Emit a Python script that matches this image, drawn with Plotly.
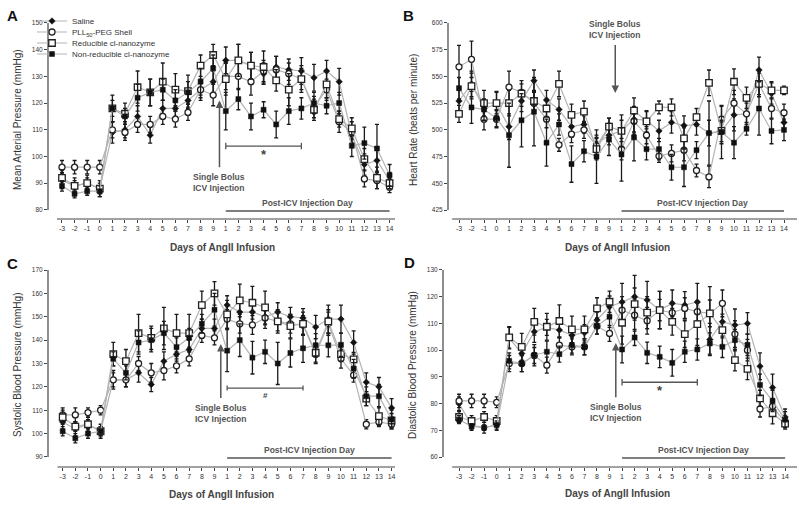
import plotly.graph_objects as go

# ---------------- data ----------------
day_labels = ["-3", "-2", "-1", "0", "1", "2", "3", "4", "5", "6", "7", "8", "9",
              "1", "2", "3", "4", "5", "6", "7", "8", "9", "10", "11", "12", "13", "14"]
series_names = ["Saline", "PLL<sub>50</sub>-PEG Shell", "Reducible cl-nanozyme", "Non-reducible cl-nanozyme"]

# A: Mean arterial pressure (mmHg)
map_saline = [91, 89, 90, 88, 109, 110, 115, 108, 118, 118, 121, 125, 128,
              136, 136, 134, 131, 133.5, 132.5, 132, 129.5, 132, 128, 108, 97, 98.5, 91]
map_pll = [96, 96, 96, 96, 110, 109, 112, 112, 115, 114, 116.5, 125, 123,
           130, 130, 128, 132, 132.5, 131, 129, 118.5, 125, 113, 109, 91.6, 91, 88.5]
map_red = [92, 89, 90, 88, 118, 116, 126, 124, 128, 125, 124.5, 134, 138,
           129, 136, 134, 133.5, 128.5, 125, 129, 117.5, 127, 114, 110.5, 99, 92, 90]
map_nonred = [89, 86, 87, 87, 118, 115, 122, 124, 125, 121, 124, 128, 133,
              117, 121.5, 115, 117.5, 112, 117, 118, 120, 119, 120, 104, 105, 103, 93]
map_saline_err = [3, 2, 2, 2, 4, 3, 4, 3, 3, 3, 3, 3, 4, 5, 6, 5, 4, 4, 4, 5, 5, 4, 5, 3, 4, 4, 3]
map_pll_err = [2.5, 2.5, 2.5, 2.5, 3, 3, 3, 3, 3, 3, 3, 4, 4, 5, 5, 5, 4, 5, 4, 4, 4, 4, 4, 4, 3, 3, 2]
map_red_err = [3, 3, 3, 3, 5, 4, 6, 5, 7, 6, 6, 4, 4, 6, 6, 5, 6, 4, 6, 5, 4, 5, 3, 4, 4, 4, 2]
map_nonred_err = [2, 1.5, 1.5, 2, 3, 3, 5, 5, 4, 4, 4, 5, 5, 7, 4, 5, 3, 5, 5, 4, 4, 3, 4, 4, 6, 9, 4]

# B: Heart rate (beats per minute)
hr_saline = [527, 543, 520, 524, 503, 527, 546, 528, 519, 503, 505, 487, 495,
             499, 510, 509, 499, 507, 504, 505, 497, 499, 514, 515, 556, 534, 507]
hr_pll = [559, 566, 510, 510, 540, 535, 525, 510, 486, 496, 500, 485, 503,
          482, 508, 495, 475.5, 478, 481, 462, 456, 510, 525, 515, 543, 520, 516]
hr_red = [515, 541, 525, 525, 525, 534, 527, 520, 543, 514, 517, 482, 503,
          499, 518, 508, 521, 521, 492, 512, 544, 499, 545, 530, 543, 537, 537]
hr_nonred = [539, 521, 519, 511, 495, 509, 517, 488, 505, 468, 480, 475, 491,
             477, 493, 482, 482, 465, 465, 481, 497, 498, 488, 501, 520, 499, 500]
hr_saline_err = [10, 12, 8, 12, 12, 10, 10, 9, 10, 10, 8, 8, 9, 10, 12, 8, 10, 10, 9, 10, 12, 12, 15, 12, 12, 10, 8]
hr_pll_err = [20, 17, 10, 8, 15, 8, 10, 8, 6, 8, 8, 8, 8, 10, 12, 8, 6, 8, 10, 6, 10, 12, 12, 10, 10, 10, 8]
hr_red_err = [8, 12, 12, 10, 12, 12, 10, 8, 12, 10, 10, 10, 8, 15, 12, 10, 6, 8, 10, 8, 12, 10, 12, 10, 12, 8, 4]
hr_nonred_err = [10, 15, 10, 8, 30, 25, 32, 22, 10, 17, 10, 25, 15, 25, 22, 10, 10, 12, 18, 8, 30, 25, 15, 6, 25, 12, 10]

# C: Systolic blood pressure (mmHg)
sbp_saline = [105, 102, 104, 101, 123, 123, 126, 121, 131, 134, 136, 145, 145,
              155, 152, 152, 150, 152, 150, 149.5, 145.6, 149, 149, 139, 122, 120, 111]
sbp_pll = [108, 108, 109, 110, 123, 123, 130, 126, 127, 129, 132, 142, 141,
           149, 147, 146.5, 149.5, 148, 147, 146.5, 134, 147, 132, 125, 104, 105, 104]
sbp_red = [107, 103, 104, 101, 134, 131, 143, 141, 145, 143, 143, 155, 160,
           151, 157, 156, 154, 148, 146, 147, 134.6, 148, 134, 131.8, 115, 107.5, 105.6]
sbp_nonred = [101, 98, 100, 101, 132, 126, 139, 140, 143, 137, 141, 147, 153,
              135.5, 140, 132.5, 135, 130, 134.5, 136.5, 137.8, 137.8, 138, 127.8, 116, 116, 106]
sbp_saline_err = [3, 3, 3, 3, 4, 3, 4, 3, 4, 3, 4, 4, 4, 4, 5, 5, 5, 4, 4, 4, 5, 6, 6, 5, 4, 4, 4]
sbp_pll_err = [3, 3, 2, 2, 3, 3, 3, 4, 4, 3, 3, 3, 3, 4, 4, 4, 3, 4, 4, 4, 4, 5, 4, 3, 2, 2, 2]
sbp_red_err = [3, 2, 2, 2, 5, 5, 8, 5, 9, 8, 8, 6, 5, 6, 7, 7, 7, 5, 5, 5, 4, 5, 3, 3, 3, 4, 3]
sbp_nonred_err = [2, 2, 2, 2, 3, 3, 5, 5, 5, 4, 4, 4, 7, 9, 7, 7, 5, 9, 6, 6, 5, 5, 5, 4, 4, 5, 4]

# D: Diastolic blood pressure (mmHg)
dbp_saline = [80, 72, 71, 72, 104.5, 98.75, 106.9, 108.5, 107.5, 105.6, 106.5, 111.25, 116.25,
              118, 120, 118.75, 115, 117.5, 116.9, 118, 104, 110.6, 109.4, 110, 94, 86, 75]
dbp_pll = [81, 81, 81, 80.5, 95, 95, 98, 94.4, 101.9, 101.25, 101.25, 109, 106.25,
           115, 113.1, 111, 115, 114, 115.6, 114.4, 113.75, 117.5, 106, 100, 78, 79, 73]
dbp_red = [75, 73.5, 75, 73.5, 104.75, 101.25, 110.6, 108.75, 110.9, 107.75, 107.75, 115.6, 118.1,
           110.25, 117.25, 114, 115, 110.6, 106, 109.75, 113.75, 107.5, 96.25, 93, 82, 76.4, 72.5]
dbp_nonred = [74, 71.5, 71, 72, 96, 95, 98.1, 99.4, 98.5, 101.9, 101.25, 109, 112.5,
              100.25, 104.75, 99, 97.5, 95.25, 99.4, 100.25, 102.5, 101.25, 103.75, 102, 87, 81, 74]
dbp_saline_err = [2.5, 2, 2, 2, 4, 3, 4, 3, 3, 3, 3, 3, 4, 7, 8, 7, 7, 5, 5, 7, 6, 6, 6, 4, 5, 5, 3]
dbp_pll_err = [2.5, 2.5, 2.5, 2, 3, 3, 3, 3, 3, 3, 3, 3, 3, 5, 6, 5, 4, 4, 4, 4, 5, 5, 5, 4, 3, 3, 2]
dbp_red_err = [2, 2, 2, 2, 4, 5, 5, 5, 6, 5, 5, 4, 4, 8, 6, 6, 7, 5, 5, 8, 10, 6, 4, 4, 3, 4, 2]
dbp_nonred_err = [1.5, 1, 1, 1.5, 3, 3, 4, 4, 3, 3, 3, 3, 4, 5, 3, 4, 4, 5, 4, 4, 4, 4, 4, 4, 4, 4, 3]

# ---------------- styling ----------------
FONT = "Liberation Sans, Arial, sans-serif"
W, H = 800, 507
x_pos = list(range(len(day_labels)))


def px_x(p):
    return p / W


def px_y(p):
    return 1 - p / H


panels = [
    dict(letter="A", ax="", xdom=[48, 395], ydom=[20, 219], xr=[-1.11, 26.43], yr=[76.6, 151.1],
         yticks=[80, 90, 100, 110, 120, 130, 140, 150], ylo=80, yhi=150, xline=[-0.4, 26.43],
         data=[map_saline, map_pll, map_red, map_nonred],
         err=[map_saline_err, map_pll_err, map_red_err, map_nonred_err],
         ytitle="Mean Arterial Pressure (mmHg)", ytx=17, yty=120, xtx=222, xty=247,
         letpos=(12, 15)),
    dict(letter="B", ax="2", xdom=[448, 797], ydom=[20, 219], xr=[-0.88, 27.04], yr=[416.6, 602.8],
         yticks=[425, 450, 475, 500, 525, 550, 575, 600], ylo=425, yhi=600, xline=[-0.55, 27.04],
         data=[hr_saline, hr_pll, hr_red, hr_nonred],
         err=[hr_saline_err, hr_pll_err, hr_red_err, hr_nonred_err],
         ytitle="Heart Rate (beats per minute)", ytx=413, yty=120, xtx=617, xty=247,
         letpos=(408, 15)),
    dict(letter="C", ax="3", xdom=[48, 395], ydom=[267, 467], xr=[-1.16, 26.27], yr=[85.7, 171.3],
         yticks=[90, 100, 110, 120, 130, 140, 150, 160, 170], ylo=90, yhi=170, xline=[-0.4, 26.27],
         data=[sbp_saline, sbp_pll, sbp_red, sbp_nonred],
         err=[sbp_saline_err, sbp_pll_err, sbp_red_err, sbp_nonred_err],
         ytitle="Systolic Blood Pressure (mmHg)", ytx=17, yty=365, xtx=221, xty=494,
         letpos=(12, 263)),
    dict(letter="D", ax="4", xdom=[443, 797], ydom=[267, 467], xr=[-1.28, 26.95], yr=[56.3, 131.1],
         yticks=[60, 70, 80, 90, 100, 110, 120, 130], ylo=60, yhi=130, xline=[-0.55, 26.95],
         data=[dbp_saline, dbp_pll, dbp_red, dbp_nonred],
         err=[dbp_saline_err, dbp_pll_err, dbp_red_err, dbp_nonred_err],
         ytitle="Diastolic Blood Pressure (mmHg)", ytx=412, yty=365, xtx=617, xty=493,
         letpos=(409, 262)),
]

marker_styles = [
    dict(symbol="diamond", size=5, color="#111", line=dict(color="#111", width=0.5)),
    dict(symbol="circle", size=6, color="white", line=dict(color="#222", width=1.3)),
    dict(symbol="square", size=6.5, color="white", line=dict(color="#222", width=1.3)),
    dict(symbol="square", size=5, color="#111", line=dict(color="#111", width=0.5)),
]
legend_ids = ["legend", "legend2", "legend3", "legend4"]
legend_py = [20, 31, 42, 53]

fig = go.Figure()
for pi, p in enumerate(panels):
    for si in range(4):
        fig.add_trace(go.Scatter(
            x=x_pos, y=p["data"][si], name=series_names[si],
            mode="lines+markers",
            line=dict(color="#b3b3b3", width=1.2),
            marker=marker_styles[si],
            error_y=dict(type="data", array=p["err"][si], color="#1a1a1a", thickness=1.3, width=2),
            xaxis="x" + p["ax"], yaxis="y" + p["ax"],
            showlegend=(pi == 0), legend=legend_ids[si],
            cliponaxis=False,
        ))

layout = dict(
    width=W, height=H, margin=dict(l=0, r=0, t=0, b=0),
    paper_bgcolor="white", plot_bgcolor="white",
    font=dict(family=FONT, color="#333"),
)
for si, lid in enumerate(legend_ids):
    layout[lid] = dict(x=px_x(32), xanchor="left", y=px_y(legend_py[si] + 1), yanchor="middle",
                       bgcolor="rgba(0,0,0,0)", borderwidth=0, itemwidth=30,
                       font=dict(size=8, family=FONT, color="#333"))

shapes = []
annotations = []
for p in panels:
    ax = p["ax"]
    xa = "xaxis" + ax
    ya = "yaxis" + ax
    layout[xa] = dict(domain=[px_x(p["xdom"][0]), px_x(p["xdom"][1])], range=p["xr"],
                      anchor="y" + ax, tickvals=x_pos, ticktext=day_labels,
                      ticks="outside", ticklen=3, tickwidth=1, tickcolor="#444",
                      showline=False, showgrid=False, zeroline=False, automargin=False,
                      tickfont=dict(size=7, color="#333", family=FONT), fixedrange=True)
    layout[ya] = dict(domain=[px_y(p["ydom"][1]), px_y(p["ydom"][0])], range=p["yr"],
                      anchor="x" + ax, tickvals=p["yticks"],
                      ticks="outside", ticklen=3, tickwidth=1, tickcolor="#444",
                      showline=False, showgrid=False, zeroline=False, automargin=False,
                      tickfont=dict(size=6.5, color="#333", family=FONT), fixedrange=True)
    xr = "x" + ax
    yr = "y" + ax
    # y axis line (ylo..yhi)
    shapes.append(dict(type="line", xref=xr + " domain", yref=yr, x0=0, x1=0,
                       y0=p["ylo"], y1=p["yhi"], line=dict(color="#444", width=1.2)))
    # x axis line
    shapes.append(dict(type="line", xref=xr, yref=yr + " domain", x0=p["xline"][0], x1=p["xline"][1],
                       y0=0, y1=0, line=dict(color="#444", width=1.2)))
    # panel letter
    annotations.append(dict(text="<b>" + p["letter"] + "</b>", xref="paper", yref="paper",
                            x=px_x(p["letpos"][0]), y=px_y(p["letpos"][1]), showarrow=False,
                            xanchor="center", yanchor="middle",
                            font=dict(size=15, color="#111", family=FONT)))
    # axis titles
    annotations.append(dict(text=p["ytitle"], xref="paper", yref="paper",
                            x=px_x(p["ytx"]), y=px_y(p["yty"]), textangle=-90, showarrow=False,
                            xanchor="center", yanchor="middle",
                            font=dict(size=10, color="#333", family=FONT)))
    annotations.append(dict(text="<b>Days of AngII Infusion</b>", xref="paper", yref="paper",
                            x=px_x(p["xtx"]), y=px_y(p["xty"]), showarrow=False,
                            xanchor="center", yanchor="middle",
                            font=dict(size=10, color="#444", family=FONT)))
    # Post-ICV injection day
    span = p["yr"][1] - p["yr"][0]
    ph = p["ydom"][1] - p["ydom"][0]

    def val(py, p=p, span=span, ph=ph):
        return p["yr"][1] - (py - p["ydom"][0]) * span / ph
    post_line_py = 211 if p["letter"] in "AB" else 458
    post_text_py = post_line_py - 8
    shapes.append(dict(type="line", xref=xr, yref=yr, x0=13, x1=26,
                       y0=val(post_line_py), y1=val(post_line_py), line=dict(color="#555", width=1.5)))
    annotations.append(dict(text="<b>Post-ICV Injection Day</b>", xref=xr, yref=yr,
                            x=19.5, y=val(post_text_py), showarrow=False,
                            xanchor="center", yanchor="middle",
                            font=dict(size=8.5, color="#555", family=FONT)))

# injection arrows with their text (text sits at the arrow tail)
inj = {
    "": dict(tip=121, text_y=90.4),
    "2": dict(tip=534.5, text_y=593.5),
    "3": dict(tip=138.3, text_y=108.8),
    "4": dict(tip=102.7, text_y=76.8),
}
for ax, d in inj.items():
    annotations.append(dict(text="<b>Single Bolus<br>ICV Injection</b>",
                            x=12.5, y=d["tip"], ax=12.5, ay=d["text_y"],
                            xref="x" + ax, yref="y" + ax, axref="x" + ax, ayref="y" + ax,
                            showarrow=True, arrowhead=2, arrowsize=1, arrowwidth=1.5,
                            arrowcolor="#555", standoff=0, startstandoff=3,
                            font=dict(size=8.5, color="#555", family=FONT)))

# significance brackets
sig = {
    "": dict(y=103.9, cap=1.2, sym="*", sy=100.6, size=13),
    "3": dict(y=119.5, cap=1.1, sym="#", sy=116.5, size=8),
    "4": dict(y=88.0, cap=1.2, sym="*", sy=84.8, size=13),
}
for ax, d in sig.items():
    xr = "x" + ax
    yr = "y" + ax
    shapes.append(dict(type="line", xref=xr, yref=yr, x0=13, x1=19, y0=d["y"], y1=d["y"],
                       line=dict(color="#555", width=1.3)))
    for xe in (13, 19):
        shapes.append(dict(type="line", xref=xr, yref=yr, x0=xe, x1=xe,
                           y0=d["y"] - d["cap"], y1=d["y"] + d["cap"],
                           line=dict(color="#555", width=1.3)))
    annotations.append(dict(text="<b>" + d["sym"] + "</b>", x=16, y=d["sy"], xref=xr, yref=yr,
                            showarrow=False, xanchor="center", yanchor="middle",
                            font=dict(size=d["size"], color="#444", family=FONT)))

layout["shapes"] = shapes
layout["annotations"] = annotations
fig.update_layout(**layout)
fig.write_html("out.html", config={"displayModeBar": False},
               post_script="document.body.style.margin='0';document.body.style.overflow='hidden';")
